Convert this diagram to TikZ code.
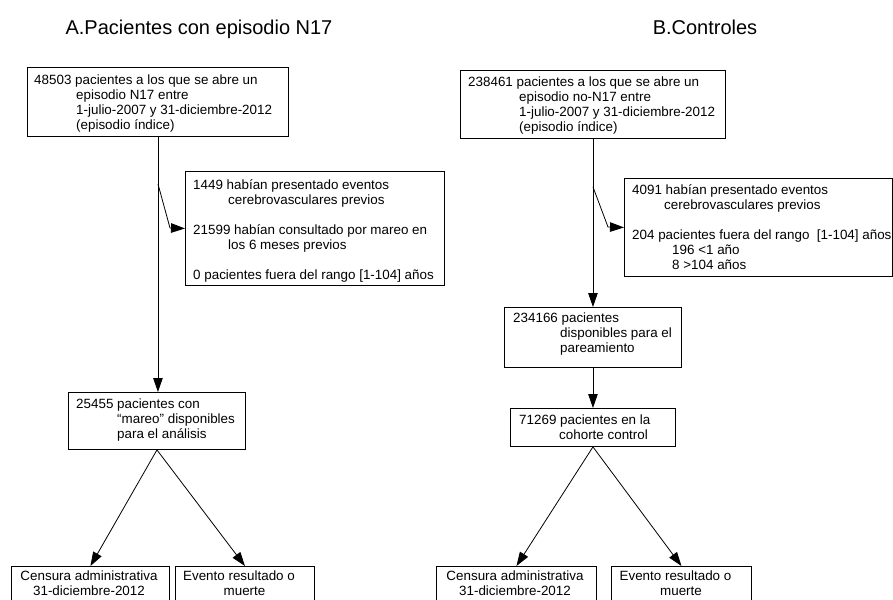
\documentclass[tikz,border=0pt]{standalone}
\usepackage{fontspec}
\setmainfont{Liberation Sans}
\usetikzlibrary{arrows.meta}
\begin{document}
\begin{tikzpicture}[x=1pt,y=-1pt,
  box/.style={draw, line width=0.9pt, inner sep=0pt, anchor=north west},
  txt/.style={inner sep=0pt, anchor=north west, align=left, font=\fontsize{13.4}{15}\selectfont},
  ctxt/.style={inner sep=0pt, anchor=north, align=center, font=\fontsize{13.4}{15}\selectfont},
  ttl/.style={inner sep=0pt, anchor=base, font=\fontsize{20}{24}\selectfont},
  arr/.style={line width=0.8pt, -{Triangle[length=14pt,width=9.5pt]}},
  ]
\useasboundingbox (0,0) rectangle (893,599);
\clip (0,0) rectangle (893,599);

% titles
\node[ttl] (ta) at (199,35) {A.Pacientes con episodio N17};
\node[ttl] (tb) at (705,35) {B.Controles};

% ---- A column ----
\node[box, minimum width=261pt, minimum height=69pt] (a1) at (27,67) {};
\node[txt] (a1t) at (34,75) {48503 pacientes a los que se abre un\\
\hspace*{42pt}episodio N17 entre\\
\hspace*{42pt}1-julio-2007 y 31-diciembre-2012\\
\hspace*{42pt}(episodio índice)};

\node[box, minimum width=259pt, minimum height=114pt] (a2) at (185,171) {};
\node[txt] (a2t) at (193,179) {1449 habían presentado eventos\\
\hspace*{35pt}cerebrovasculares previos\\[15pt]
21599 habían consultado por mareo en\\
\hspace*{35pt}los 6 meses previos\\[15pt]
0 pacientes fuera del rango [1-104] años};

\node[box, minimum width=177pt, minimum height=57pt] (a3) at (68,392) {};
\node[txt] (a3t) at (76,399) {25455 pacientes con\\
\hspace*{41pt}“mareo” disponibles\\
\hspace*{41pt}para el análisis};

\node[box, minimum width=158pt, minimum height=60pt] (a4) at (11,566) {};
\node[ctxt] (a4t) at (89,571) {Censura administrativa\\31-diciembre-2012};
\node[box, minimum width=139pt, minimum height=60pt] (a5) at (175,566) {};
\node[ctxt] (a5t) at (244.5,571) {Evento resultado o\hspace*{11pt}\\muerte};

\coordinate (ja) at ([yshift=-47pt]a1.south);
\coordinate (ka) at (170,228);
\draw[arr] (a1.south) -- (a1.south |- a3.north);
\draw[arr] (ja) -- (ka) -- (a2.west);
\draw[arr] (a3.south) -- (a4.north);
\draw[arr] (a3.south) -- (a5.north);

% ---- B column ----
\node[box, minimum width=265pt, minimum height=68pt] (b1) at (460,70) {};
\node[txt] (b1t) at (468,77) {238461 pacientes a los que se abre un\\
\hspace*{51pt}episodio no-N17 entre\\
\hspace*{51pt}1-julio-2007 y 31-diciembre-2012\\
\hspace*{51pt}(episodio índice)};

\node[box, minimum width=268pt, minimum height=98pt] (b2) at (624,178) {};
\node[txt] (b2t) at (632,184) {4091 habían presentado eventos\\
\hspace*{32pt}cerebrovasculares previos\\[15pt]
204 pacientes fuera del rango\ \ [1-104] años\\
\hspace*{40pt}196 <1 año\\
\hspace*{40pt}8 >104 años};

\node[box, minimum width=177pt, minimum height=60pt] (b3) at (504,307) {};
\node[txt] (b3t) at (513,313) {234166 pacientes\\
\hspace*{47pt}disponibles para el\\
\hspace*{47pt}pareamiento};

\node[box, minimum width=165pt, minimum height=38pt] (b4) at (510,408) {};
\node[txt] (b4t) at (519,415) {71269 pacientes en la\\
\hspace*{40pt}cohorte control};

\node[box, minimum width=160pt, minimum height=60pt] (b5) at (436,566) {};
\node[ctxt] (b5t) at (515,571) {Censura administrativa\\31-diciembre-2012};
\node[box, minimum width=140pt, minimum height=60pt] (b6) at (611,566) {};
\node[ctxt] (b6t) at (681,571) {Evento resultado o\hspace*{11pt}\\muerte};

\coordinate (jb) at ([yshift=-48pt]b1.south);
\coordinate (kb) at (608,227);
\draw[arr] (b1.south) -- (b1.south |- b3.north);
\draw[arr] (jb) -- (kb) -- (b2.west);
\draw[arr] (b3.south) -- (b4.north);
\draw[arr] (b4.south) -- (b5.north);
\draw[arr] (b4.south) -- (b6.north);
\end{tikzpicture}
\end{document}
